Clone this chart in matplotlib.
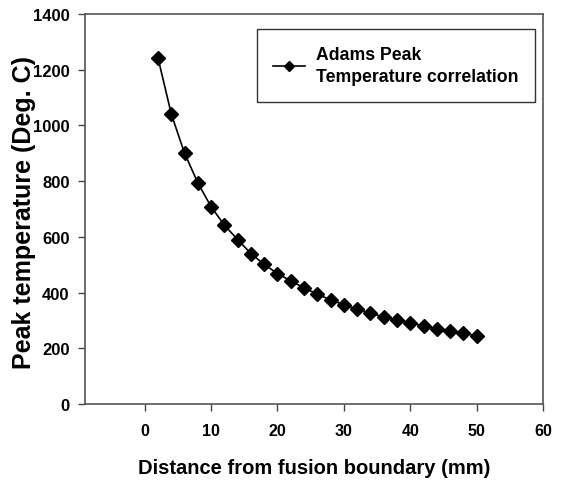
import matplotlib
matplotlib.use("Agg")
import matplotlib.pyplot as plt

distance_mm = [2, 4, 6, 8, 10, 12, 14, 16, 18, 20, 22, 24, 26, 28, 30,
               32, 34, 36, 38, 40, 42, 44, 46, 48, 50]
peak_temp = [1242, 1041, 900, 794, 708, 642, 590, 540, 501, 468, 442, 417,
             394, 374, 356, 341, 326, 313, 302, 292, 280, 270, 262, 254, 245]
x_ticks = [0, 10, 20, 30, 40, 50, 60]
y_ticks = [0, 200, 400, 600, 800, 1000, 1200, 1400]

plt.rcParams['font.family'] = ['Liberation Sans', 'DejaVu Sans']

fig = plt.figure(figsize=(5.63, 4.81), dpi=100)
ax = fig.add_axes([85/563, 1-405/481, (543-85)/563, (405-15)/481])

ax.plot(distance_mm, peak_temp, color='black', lw=1.2, marker='D',
        markersize=7, markerfacecolor='black', markeredgecolor='black',
        label='Adams Peak\nTemperature correlation')

ax.set_xlim(-9, 60)
ax.set_ylim(0, 1400)
ax.set_xticks(x_ticks)
ax.set_yticks(y_ticks)
ax.tick_params(direction='out', length=5, width=1, colors='#444444',
               labelcolor='black')
ax.tick_params(axis='x', pad=9, labelsize=11.5)
ax.tick_params(axis='y', pad=6, labelsize=12)
for lab in ax.get_xticklabels() + ax.get_yticklabels():
    lab.set_fontweight('bold')
for s in ax.spines.values():
    s.set_color('#555555')
    s.set_linewidth(1.2)

ax.set_xlabel('Distance from fusion boundary (mm)', fontsize=14.5,
              fontweight='bold', va='center')
ax.xaxis.set_label_coords(0.5, (405-469)/390)
ax.set_ylabel('Peak temperature (Deg. C)', fontsize=18, fontweight='bold',
              va='center')
ax.yaxis.set_label_coords((24-85)/458, (405-213)/390)

leg = ax.legend(loc='upper right', bbox_to_anchor=(535/563, 1-30/481),
                bbox_transform=fig.transFigure, borderaxespad=0,
                frameon=True, fancybox=False,
                edgecolor='black', prop={'size': 12.7, 'weight': 'bold'},
                handlelength=1.8, handletextpad=0.6, borderpad=0.95,
                markerscale=0.75)
leg.get_frame().set_linewidth(1.0)
for t in leg.get_texts():
    t.set_linespacing(1.4)

fig.savefig('out.png', dpi=100)
